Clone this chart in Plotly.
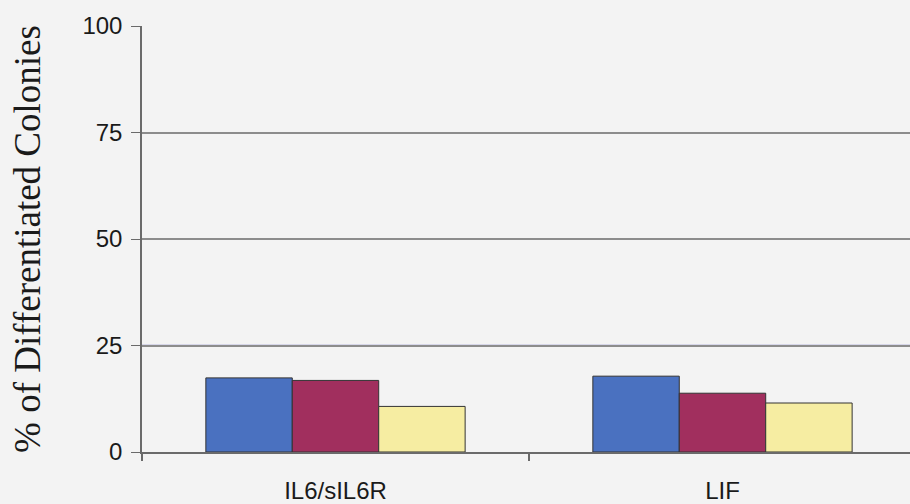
import plotly.graph_objects as go

# Colony differentiation by cytokine treatment
categories = ["IL6/sIL6R", "LIF"]
series_a = [17.4, 17.8]
series_b = [16.8, 13.8]
series_c = [10.7, 11.5]
y_ticks = [0, 25, 50, 75, 100]

bar_colors = ["#4a71c0", "#a12f5e", "#f6eda2"]

fig = go.Figure()
for vals, col in zip([series_a, series_b, series_c], bar_colors):
    fig.add_trace(go.Bar(
        x=categories, y=vals,
        marker=dict(color=col, line=dict(color="#333333", width=1)),
        showlegend=False,
    ))

fig.update_layout(
    width=910, height=504,
    margin=dict(l=142, r=0, t=26, b=52),
    paper_bgcolor="#f3f3f3",
    plot_bgcolor="#f3f3f3",
    barmode="group",
    bargap=0.33,
    bargroupgap=0,
    font=dict(family="Liberation Sans, Arial, sans-serif", color="#1a1a1a"),
)

fig.update_xaxes(
    range=[-0.5, 1.4845],
    showline=True, linecolor="#6a6a6a", linewidth=1.5,
    ticks="outside", ticklen=7, tickcolor="#6a6a6a", tickwidth=2,
    tickson="boundaries",
    ticklabelstandoff=16,
    tickfont=dict(size=24, family="Liberation Sans, Arial, sans-serif"),
    showgrid=False,
)

fig.update_yaxes(
    range=[0, 100],
    tickvals=y_ticks,
    ticktext=[str(v) for v in y_ticks],
    showline=True, linecolor="#6a6a6a", linewidth=1.5,
    ticks="outside", ticklen=9, tickcolor="#6a6a6a",
    ticklabelstandoff=4,
    tickfont=dict(size=24, family="Liberation Sans, Arial, sans-serif"),
    showgrid=True, gridcolor="#8c8c8c", gridwidth=1.5,
    zeroline=False,
    title=dict(text="% of Differentiated Colonies",
               font=dict(size=37, family="Liberation Serif, Times New Roman, serif"),
               standoff=30),
)

# bluish reference line at 25
fig.add_shape(type="line", xref="paper", yref="y", x0=0, x1=1, y0=25, y1=25,
              line=dict(color="#8080c8", width=1.5), layer="between")

fig.write_html("out.html")
